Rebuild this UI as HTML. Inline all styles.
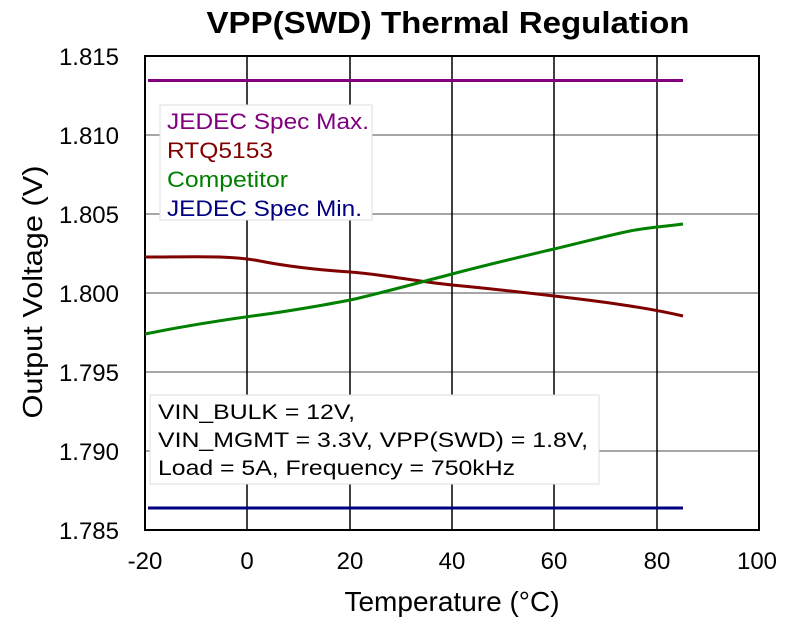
<!DOCTYPE html><html><head><style>body{margin:0;background:#fff}svg text{font-family:"Liberation Sans",sans-serif}</style></head><body>
<svg width="796" height="624" xmlns="http://www.w3.org/2000/svg">
<rect width="796" height="624" fill="#fff"/>
<text x="448" y="33" font-size="31" font-weight="bold" text-anchor="middle" textLength="483" lengthAdjust="spacingAndGlyphs">VPP(SWD) Thermal Regulation</text>
<g stroke="#888" stroke-width="1.5">
<line x1="145" y1="135" x2="759" y2="135"/><line x1="145" y1="214" x2="759" y2="214"/><line x1="145" y1="293" x2="759" y2="293"/><line x1="145" y1="372" x2="759" y2="372"/><line x1="145" y1="451" x2="759" y2="451"/>
</g>
<g stroke="#000" stroke-width="1.5">
<line x1="247" y1="56" x2="247" y2="530"/><line x1="350" y1="56" x2="350" y2="530"/><line x1="452" y1="56" x2="452" y2="530"/><line x1="554" y1="56" x2="554" y2="530"/><line x1="657" y1="56" x2="657" y2="530"/>
</g>
<rect x="145" y="56" width="614" height="474" fill="none" stroke="#000" stroke-width="2"/>
<rect x="160" y="105" width="212" height="115" fill="#fff" stroke="#ddd"/>
<g font-size="22" lengthAdjust="spacingAndGlyphs">
<text x="167" y="129" fill="#800080" textLength="202" lengthAdjust="spacingAndGlyphs">JEDEC Spec Max.</text>
<text x="167" y="158" fill="#800000" textLength="106" lengthAdjust="spacingAndGlyphs">RTQ5153</text>
<text x="167" y="187" fill="#008000" textLength="121" lengthAdjust="spacingAndGlyphs">Competitor</text>
<text x="167" y="216" fill="#000080" textLength="195" lengthAdjust="spacingAndGlyphs">JEDEC Spec Min.</text>
</g>
<rect x="150" y="395" width="449" height="89" fill="#fff" stroke="#ddd"/>
<g font-size="21" fill="#000">
<text x="158" y="419" textLength="197" lengthAdjust="spacingAndGlyphs">VIN_BULK = 12V,</text>
<text x="158" y="447" textLength="430" lengthAdjust="spacingAndGlyphs">VIN_MGMT = 3.3V, VPP(SWD) = 1.8V,</text>
<text x="158" y="475" textLength="357" lengthAdjust="spacingAndGlyphs">Load = 5A, Frequency = 750kHz</text>
</g>
<line x1="148" y1="80.5" x2="683" y2="80.5" stroke="#800080" stroke-width="3"/>
<line x1="148" y1="508" x2="683" y2="508" stroke="#000080" stroke-width="3"/>
<path d="M145,257 C190,257 230,255 260,261 S320,270 350,272 S420,282 452,285 S520,292 554,296 S640,306 683,316" fill="none" stroke="#800000" stroke-width="3"/>
<path d="M145,334 C190,325 230,319 260,315 S330,304 350,300 S410,285 452,274 S520,257 554,249 S610,235 630,231 S670,226 683,224" fill="none" stroke="#008000" stroke-width="3"/>
<g font-size="24" text-anchor="end"><text x="119" y="65">1.815</text><text x="119" y="144">1.810</text><text x="119" y="223">1.805</text><text x="119" y="302">1.800</text><text x="119" y="381">1.795</text><text x="119" y="460">1.790</text><text x="119" y="539">1.785</text></g>
<g font-size="24" text-anchor="middle"><text x="145" y="569">-20</text><text x="247" y="569">0</text><text x="350" y="569">20</text><text x="452" y="569">40</text><text x="554" y="569">60</text><text x="657" y="569">80</text><text x="757" y="569">100</text></g>
<text x="452" y="611" font-size="28" text-anchor="middle">Temperature (°C)</text>
<text transform="translate(42,292) rotate(-90)" font-size="28" text-anchor="middle" textLength="253" lengthAdjust="spacingAndGlyphs">Output Voltage (V)</text>
</svg></body></html>
